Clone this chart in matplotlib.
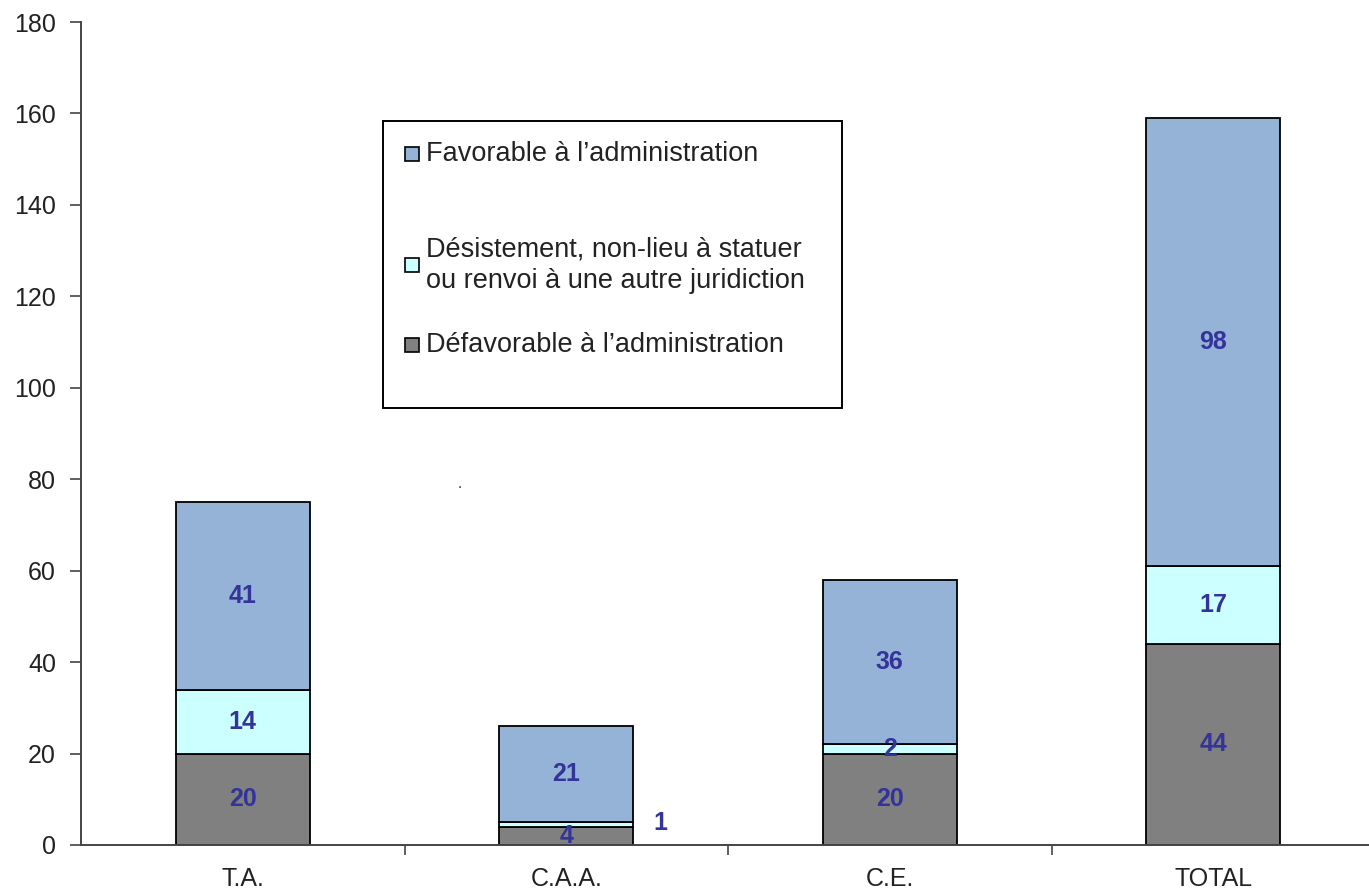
import matplotlib
matplotlib.use("Agg")
import matplotlib.pyplot as plt
from matplotlib.patches import Rectangle
import numpy as np

plt.rcParams['font.family'] = ['Liberation Sans', 'DejaVu Sans']

categories = ['T.A.', 'C.A.A.', 'C.E.', 'TOTAL']
defavorable = [20, 4, 20, 44]
desistement = [14, 1, 2, 17]
favorable = [41, 21, 36, 98]

legend_labels = ["Favorable à l\u2019administration",
                 "Désistement, non-lieu à statuer\nou renvoi à une autre juridiction",
                 "Défavorable à l\u2019administration"]

c_fav = '#95B3D7'
c_des = '#CCFFFF'
c_def = '#808080'
lab_col = '#333399'

W, H = 1369, 890
fig = plt.figure(figsize=(W / 100, H / 100), dpi=100)
ax = fig.add_axes([81 / W, 1 - 845 / H, 1294 / W, (845 - 22) / H])

x = np.arange(len(categories))
bw = 0.415
d = np.array(defavorable)
s = np.array(desistement)
f = np.array(favorable)
ax.bar(x, d, bw, color=c_def, edgecolor='black', linewidth=1.3)
ax.bar(x, s, bw, bottom=d, color=c_des, edgecolor='black', linewidth=1.3)
ax.bar(x, f, bw, bottom=d + s, color=c_fav, edgecolor='black', linewidth=1.3)

lab_kw = dict(ha='center', va='center', color=lab_col, fontsize=18, fontweight='bold')
for i in range(len(categories)):
    ax.text(x[i], d[i] / 2, str(d[i]), **lab_kw)
    if s[i] < 2:
        # thin segment: value written beside the bar
        ax.text(x[i] + 0.29, d[i] + s[i] / 2 + 0.3, str(s[i]), **lab_kw)
    else:
        ax.text(x[i], d[i] + s[i] / 2, str(s[i]), **lab_kw)
    ax.text(x[i], d[i] + s[i] + f[i] / 2, str(f[i]), **lab_kw)

ax.set_xlim(-0.5, len(categories) - 0.5)
ax.set_ylim(0, 180)
ax.set_yticks(range(0, 181, 20))
ax.set_xticks(x)
ax.set_xticklabels(categories)
ax.set_xticks(np.arange(0.5, len(categories) - 0.5, 1), minor=True)
ax.tick_params(axis='x', which='major', length=0, labelsize=18, pad=16, colors='#222222')
ax.tick_params(axis='x', which='minor', length=7, width=1.2, color='#444444')
ax.tick_params(axis='y', length=8, width=1.2, labelsize=18, pad=10, color='#444444', labelcolor='#222222')
for sp in ['top', 'right']:
    ax.spines[sp].set_visible(False)
for sp in ['left', 'bottom']:
    ax.spines[sp].set_linewidth(1.4)
    ax.spines[sp].set_color('#444444')

# stray point in the plot area
ax.text(0.67, 79, '.', ha='center', va='center', fontsize=11, color='#333333')

# legend box
tf = fig.transFigure
def fx(px):
    return px / W
def fy(py):
    return 1 - py / H

fig.patches.append(Rectangle((fx(383), fy(408)), fx(842) - fx(383), fy(121) - fy(408),
                             transform=tf, facecolor='white', edgecolor='black', linewidth=1.4))
rows = [(c_fav, 154), (c_des, 265), (c_def, 345)]
for (col, yc), lab in zip(rows, legend_labels):
    fig.patches.append(Rectangle((fx(405), fy(yc + 7)), fx(14), 14 / H,
                                 transform=tf, facecolor=col, edgecolor='black', linewidth=1.2))
    fig.text(fx(426), fy(yc), lab, ha='left', va='center', fontsize=19.5,
             color='#222222', linespacing=1.3)

fig.savefig('out.png', dpi=100)
